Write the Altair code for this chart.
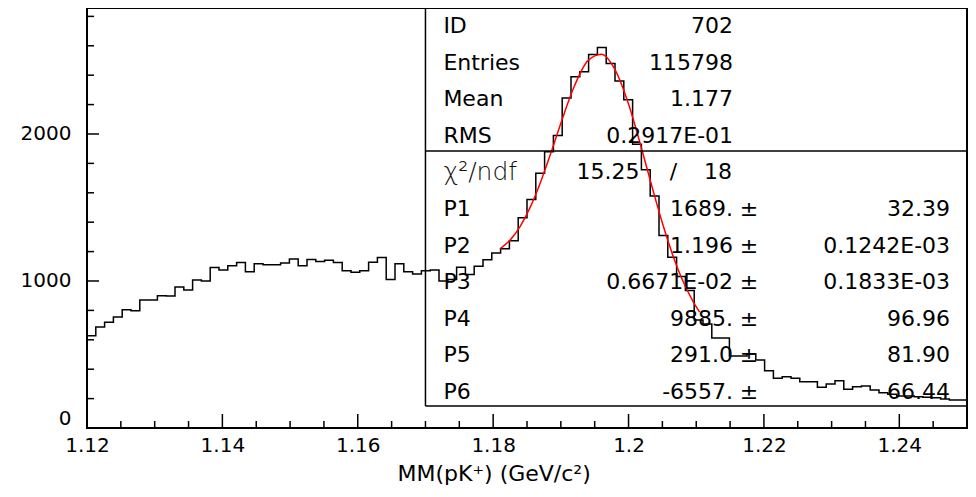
import altair as alt
import pandas as pd

# ---------------- data ----------------
X_MIN, X_MAX = 1.12, 1.25
BIN_WIDTH = 0.0013
Y_MAX = 2857

counts = [628, 687, 719, 755, 805, 798, 871, 871, 900, 898,
          959, 939, 1007, 1000, 1091, 1075, 1104, 1125, 1063, 1118,
          1111, 1111, 1122, 1150, 1104, 1147, 1132, 1141, 1125, 1070,
          1059, 1070, 1127, 1159, 1011, 1118, 1063, 1048, 1070, 1075,
          1000, 1010, 1093, 1045, 1100, 1145, 1190, 1220, 1273, 1430,
          1555, 1733, 1880, 1990, 2245, 2390, 2424, 2540, 2588, 2480,
          2360, 2233, 1930, 1757, 1578, 1310, 1161, 1030, 935, 735,
          708, 612, 612, 490, 490, 503, 463, 390, 338, 349,
          338, 315, 315, 277, 299, 322, 263, 281, 286, 259,
          240, 229, 218, 218, 213, 209, 206, 197, 190, 190]

fit_x = [1.181, 1.1825, 1.184, 1.1855, 1.187, 1.1885, 1.190, 1.192, 1.194,
         1.196, 1.198, 1.200, 1.202, 1.2035, 1.205, 1.2065, 1.208, 1.2095, 1.2105]
fit_y = [1218, 1278, 1372, 1504, 1672, 1867, 2073, 2326, 2499,
         2543, 2438, 2204, 1888, 1636, 1394, 1181, 1003, 863, 788]

x_major_ticks = [1.12, 1.14, 1.16, 1.18, 1.20, 1.22, 1.24]
x_minor_ticks = [1.125, 1.13, 1.135, 1.145, 1.15, 1.155, 1.165, 1.17, 1.175,
                 1.185, 1.19, 1.195, 1.205, 1.21, 1.215, 1.225, 1.23, 1.235, 1.245]
y_major_ticks = [0, 1000, 2000]
y_minor_ticks = [200, 400, 600, 800, 1200, 1400, 1600, 1800, 2200, 2400, 2600, 2800]

stat_names = ["ID", "Entries", "Mean", "RMS"]
stat_values = ["702", "115798", "1.177", "0.2917E-01"]
chi2_label = "\u03c7\u00b2/ndf"
chi2_value = "15.25"
ndf_value = "18"
par_names = ["P1", "P2", "P3", "P4", "P5", "P6"]
par_values = ["1689.", "1.196", "0.6671E-02", "9885.", "291.0", "-6557."]
par_errors = ["32.39", "0.1242E-03", "0.1833E-03", "96.96", "81.90", "66.44"]

x_title = "MM(pK\u207a) (GeV/c\u00b2)"

# ---------------- layout ----------------
W, H = 880, 420
FONT = "DejaVu Sans"
STAT_FS = 22

# reference pixel frame: x 88..972 <-> 1.12..1.25 ; y 428 <-> 0, 147 px per 1000
def gx(px):
    return X_MIN + (px - 88) / 884 * (X_MAX - X_MIN)

def gy(py):
    return (428 - py) / 0.147

ROW_BASE = [33 + i * 36.6 for i in range(11)]

edges = [X_MIN + i * BIN_WIDTH for i in range(len(counts) + 1)]
hist_df = pd.DataFrame({"x": edges, "n": counts + [counts[-1]]})
fit_df = pd.DataFrame({"x": fit_x, "y": fit_y})

xscale = alt.Scale(domain=[X_MIN, X_MAX], nice=False, zero=False)
yscale = alt.Scale(domain=[0, Y_MAX], nice=False)
xaxis = alt.Axis(values=x_major_ticks, format="~g", ticks=False, domain=False, title=None,
                 grid=False, labelFlush=False, labelPadding=7,
                 labelFont=FONT, labelFontSize=20, labelColor="black")
yaxis = alt.Axis(values=y_major_ticks, format="d", ticks=False, domain=False, title=None,
                 grid=False, labelFlush=True, labelPadding=16,
                 labelFont=FONT, labelFontSize=20, labelColor="black")

def X(field):
    return alt.X(field, type="quantitative", scale=xscale, axis=xaxis, title=None)

def Y(field):
    return alt.Y(field, type="quantitative", scale=yscale, axis=yaxis, title=None)

hist = alt.Chart(hist_df).mark_line(
    interpolate="step-after", color="black", strokeWidth=1.5
).encode(x=X("x"), y=Y("n"))

fit = alt.Chart(fit_df).mark_line(
    color="#ff0000", strokeWidth=1.5, interpolate="monotone"
).encode(x=X("x"), y=Y("y"))

def yticks(vals, length):
    return alt.Chart(pd.DataFrame({"v": vals})).mark_rule(color="black", strokeWidth=1.5).encode(
        y=Y("v"), x=alt.value(0), x2=alt.value(length))

def xticks(vals, length):
    return alt.Chart(pd.DataFrame({"v": vals})).mark_rule(color="black", strokeWidth=1.5).encode(
        x=X("v"), y=alt.value(H), y2=alt.value(H - length))

box_df = pd.DataFrame({
    "x": [gx(428), gx(428), gx(428)],
    "x2": [gx(428), X_MAX, X_MAX],
    "y": [Y_MAX, gy(406), gy(151)],
    "y2": [gy(406), gy(406), gy(151)],
})
box = alt.Chart(box_df).mark_rule(color="black", strokeWidth=1.5).encode(
    x=X("x"), x2="x2:Q", y=Y("y"), y2="y2:Q")

# text tables (positions in data units)
rows_left, rows_right, rows_center = [], [], []
for i, (n, v) in enumerate(zip(stat_names, stat_values)):
    rows_left.append({"t": n, "x": gx(446), "y": gy(ROW_BASE[i])})
    rows_right.append({"t": v, "x": gx(737), "y": gy(ROW_BASE[i])})
rows_right.append({"t": chi2_value, "x": gx(643), "y": gy(ROW_BASE[4])})
rows_center.append({"t": "/", "x": gx(677), "y": gy(ROW_BASE[4])})
rows_right.append({"t": ndf_value, "x": gx(736), "y": gy(ROW_BASE[4])})
for j, (n, v, e) in enumerate(zip(par_names, par_values, par_errors)):
    r = ROW_BASE[5 + j]
    rows_left.append({"t": n, "x": gx(446), "y": gy(r)})
    rows_right.append({"t": v, "x": gx(737), "y": gy(r)})
    rows_center.append({"t": "\u00b1", "x": gx(753), "y": gy(r)})
    rows_right.append({"t": e, "x": gx(955), "y": gy(r)})

def text_layer(rows, align, size=STAT_FS, weight="normal", color="black"):
    return alt.Chart(pd.DataFrame(rows)).mark_text(
        align=align, baseline="alphabetic", font=FONT, fontSize=size,
        fontWeight=weight, color=color
    ).encode(x=X("x"), y=Y("y"), text="t:N")

chi_lab = text_layer([{"t": chi2_label, "x": gx(446), "y": gy(ROW_BASE[4] + 1)}], "left",
                     size=25, weight=200, color="#111111")
title = text_layer([{"t": x_title, "x": gx(497), "y": gy(481)}], "center", size=22)

chart = alt.layer(
    hist, fit,
    yticks(y_major_ticks, 12), yticks(y_minor_ticks, 7),
    xticks(x_major_ticks, 14), xticks(x_minor_ticks, 7),
    box,
    text_layer(rows_left, "left"), text_layer(rows_right, "right"),
    text_layer(rows_center, "center"), chi_lab, title,
).properties(
    width=W, height=H, autosize="none",
    padding={"left": 79, "top": 0, "right": 1, "bottom": 60},
    background="white",
).configure_view(stroke="black", strokeWidth=2)

chart.save("out.html", embed_options={"renderer": "svg", "actions": False})
